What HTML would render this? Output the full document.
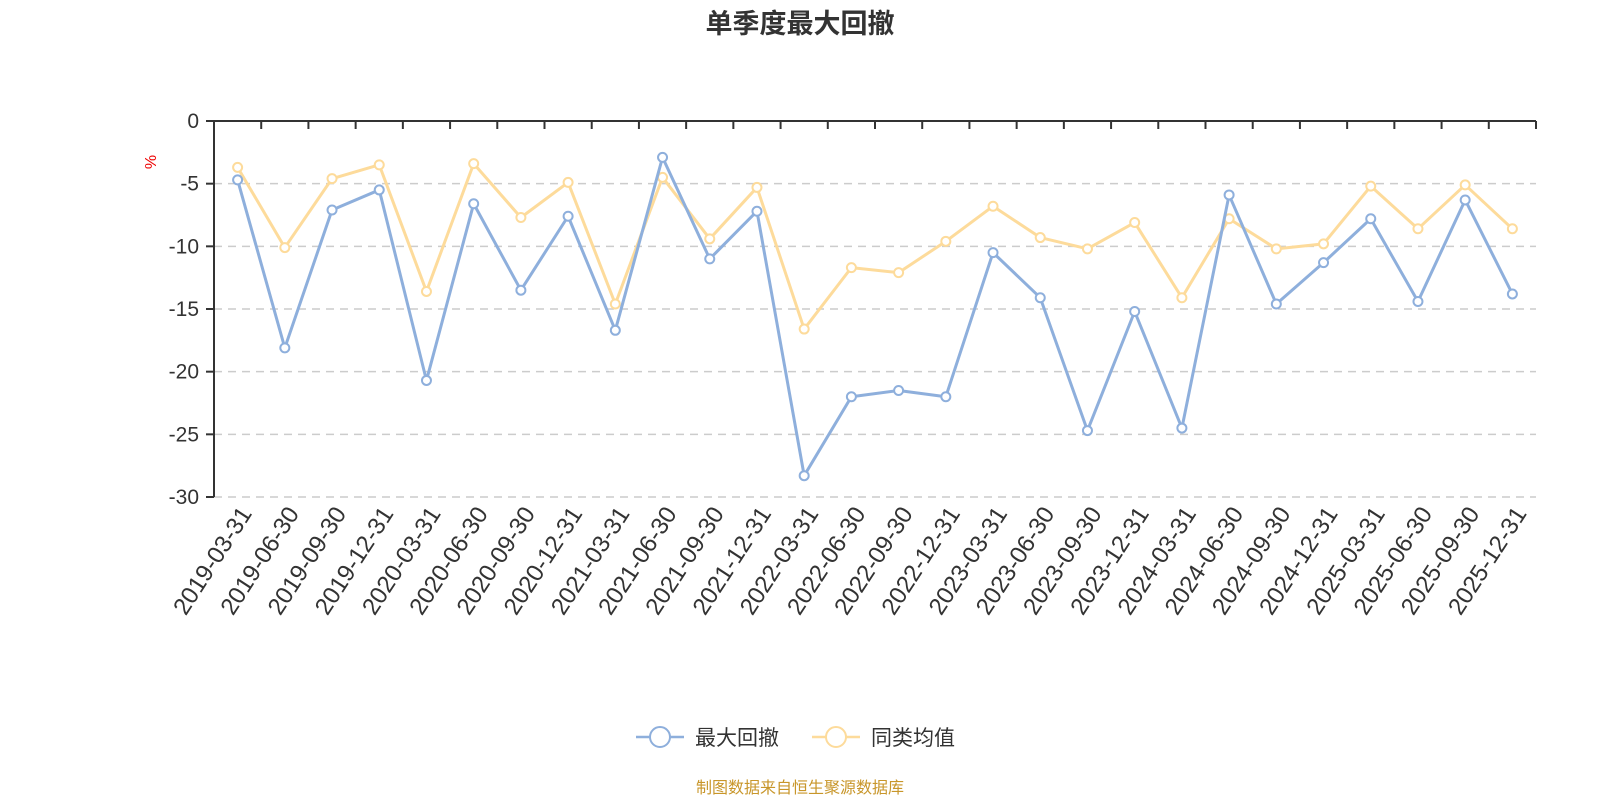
<!DOCTYPE html>
<html><head><meta charset="utf-8"><style>
html,body{margin:0;padding:0;background:#fff;width:1600px;height:800px;overflow:hidden}
svg{font-family:"Liberation Sans","Noto Sans CJK SC",sans-serif}
</style></head><body>
<svg id="chart" width="1600" height="800">
<text x="800" y="33" text-anchor="middle" font-size="27" font-weight="bold" fill="#333">单季度最大回撤</text>
<text x="156" y="162" font-size="16" fill="#e00" transform="rotate(-90 156 162)" text-anchor="middle">%</text>
<g id="grid"></g><g id="axes"></g><g id="series"></g>
<g>
<g>
<line x1="636" y1="737" x2="684" y2="737" stroke="#8eafdc" stroke-width="2.5"/>
<circle cx="660" cy="737" r="10" fill="#fff" stroke="#8eafdc" stroke-width="2"/>
<text x="695" y="745" font-size="21" fill="#333">最大回撤</text></g>
<g>
<line x1="812" y1="737" x2="860" y2="737" stroke="#fddb9b" stroke-width="2.5"/>
<circle cx="836" cy="737" r="10" fill="#fff" stroke="#fddb9b" stroke-width="2"/>
<text x="871" y="745" font-size="21" fill="#333">同类均值</text></g>
</g>
<text x="800" y="793" text-anchor="middle" font-size="16" fill="#c8962a">制图数据来自恒生聚源数据库</text>
</svg>
<script>
const categories=["2019-03-31","2019-06-30","2019-09-30","2019-12-31","2020-03-31","2020-06-30","2020-09-30","2020-12-31","2021-03-31","2021-06-30","2021-09-30","2021-12-31","2022-03-31","2022-06-30","2022-09-30","2022-12-31","2023-03-31","2023-06-30","2023-09-30","2023-12-31","2024-03-31","2024-06-30","2024-09-30","2024-12-31","2025-03-31","2025-06-30","2025-09-30","2025-12-31"];
const maxDrawdown=[-4.7,-18.1,-7.1,-5.5,-20.7,-6.6,-13.5,-7.6,-16.7,-2.9,-11.0,-7.2,-28.3,-22.0,-21.5,-22.0,-10.5,-14.1,-24.7,-15.2,-24.5,-5.9,-14.6,-11.3,-7.8,-14.4,-6.3,-13.8];
const peerAverage=[-3.7,-10.1,-4.6,-3.5,-13.6,-3.4,-7.7,-4.9,-14.6,-4.5,-9.4,-5.3,-16.6,-11.7,-12.1,-9.6,-6.8,-9.3,-10.2,-8.1,-14.1,-7.8,-10.2,-9.8,-5.2,-8.6,-5.1,-8.6];
const yTicks=[0,-5,-10,-15,-20,-25,-30];
const L=214,R=1536,T=121,B=497;
const band=(R-L)/categories.length;
const xs=i=>L+band*(i+0.5);
const ys=v=>T+(0-v)/30*(B-T);
const NS="http://www.w3.org/2000/svg";
function mk(p,tag,a){const e=document.createElementNS(NS,tag);for(const k in a)e.setAttribute(k,a[k]);p.appendChild(e);return e;}
const grid=document.getElementById('grid'),axes=document.getElementById('axes'),ser=document.getElementById('series');
yTicks.forEach(v=>{
 const y=ys(v);
 if(v!==0){const g=mk(grid,'line',{x1:L,x2:R,y1:y,y2:y,stroke:'#ccc','stroke-width':1.5,'stroke-dasharray':'8,6'});
 
 }
 const tk=mk(axes,'line',{x1:L-8,x2:L,y1:y,y2:y,stroke:'#333','stroke-width':2});
 
 
 const t=mk(axes,'text',{x:L-15,y:y+7,'text-anchor':'end','font-size':21,fill:'#333'});t.textContent=v;
 
 
});
const ya=mk(axes,'line',{x1:L,x2:L,y1:T,y2:B,stroke:'#333','stroke-width':2});


const xa=mk(axes,'line',{x1:L,x2:R,y1:T,y2:T,stroke:'#333','stroke-width':2});


for(let i=1;i<=categories.length;i++){
 const x=L+band*i;const tk=mk(axes,'line',{x1:x,x2:x,y1:T,y2:T+8,stroke:'#333','stroke-width':2});
 
 
}
categories.forEach((c,i)=>{
 const x=xs(i)+8,y=B+12;
 const t=mk(axes,'text',{x:x,y:y,'text-anchor':'end','font-size':24,fill:'#333',transform:`rotate(-57 ${x} ${y})`,dy:'0.35em'});t.textContent=c;
 
 
});
function drawSeries(vals,color,name){
 const g=mk(ser,'g',{});
 
 
 mk(g,'polyline',{points:vals.map((v,i)=>xs(i)+','+ys(v)).join(' '),fill:'none',stroke:color,'stroke-width':3,'stroke-linejoin':'round'});
 vals.forEach((v,i)=>{const c=mk(g,'circle',{cx:xs(i),cy:ys(v),r:4.5,fill:'#fff',stroke:color,'stroke-width':2});
 
 });
}
drawSeries(peerAverage,'#fddb9b','peer-average-line');
drawSeries(maxDrawdown,'#8eafdc','max-drawdown-line');
</script>
</body></html>
